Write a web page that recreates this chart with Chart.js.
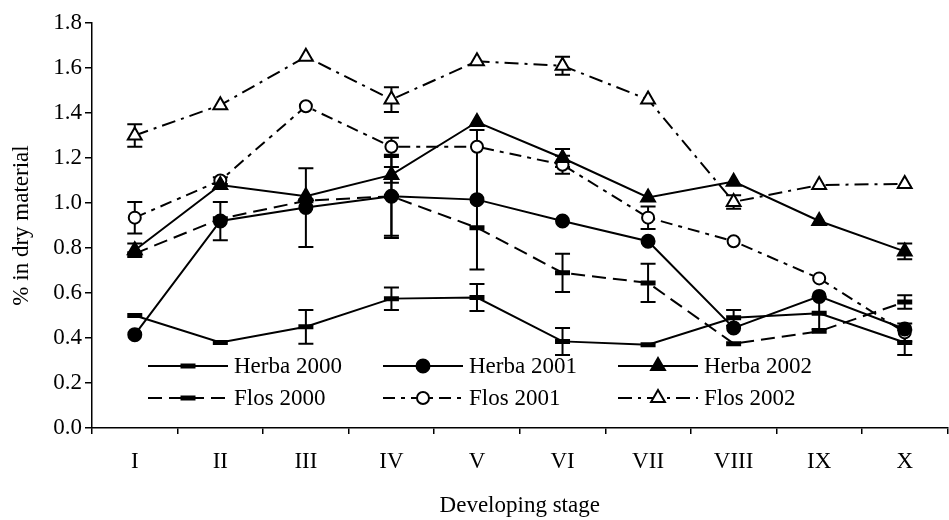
<!DOCTYPE html>
<html>
<head>
<meta charset="utf-8">
<script src="https://cdn.jsdelivr.net/npm/chart.js@4/dist/chart.umd.min.js"></script>
<style>
  html, body { margin: 0; padding: 0; background: #fff; overflow: hidden; }
  #wrap { width: 960px; height: 520px; }
</style>
</head>
<body>
<div id="wrap"><canvas id="grafico"></canvas></div>
<script>
// stages and measured values (% in dry material)
const stages = ['I', 'II', 'III', 'IV', 'V', 'VI', 'VII', 'VIII', 'IX', 'X'];

const herba2000 = [0.50, 0.38, 0.45, 0.575, 0.58, 0.385, 0.37, 0.49, 0.51, 0.38];
const herba2001 = [0.415, 0.92, 0.98, 1.03, 1.015, 0.92, 0.83, 0.445, 0.585, 0.44];
const herba2002 = [0.79, 1.08, 1.03, 1.125, 1.36, 1.20, 1.025, 1.095, 0.92, 0.785];
const flos2000 = [0.775, 0.93, 1.01, 1.03, 0.89, 0.69, 0.645, 0.375, 0.43, 0.56];
const flos2001 = [0.935, 1.10, 1.43, 1.25, 1.25, 1.17, 0.935, 0.83, 0.665, 0.425];
const flos2002 = [1.30, 1.435, 1.65, 1.46, 1.63, 1.61, 1.46, 1.005, 1.08, 1.085];

// error bar half-widths
const herba2000Err = [0, 0, 0.075, 0.05, 0.06, 0.06, 0, 0.035, 0.07, 0.055];
const herba2001Err = [0, 0.085, 0.175, 0.175, 0.31, 0, 0, 0, 0, 0];
const herba2002Err = [0.03, 0, 0, 0.035, 0, 0.04, 0, 0, 0, 0.035];
const flos2000Err = [0, 0, 0, 0.185, 0, 0.085, 0.085, 0, 0, 0.03];
const flos2001Err = [0.07, 0.015, 0, 0.04, 0, 0.04, 0.05, 0, 0, 0.04];
const flos2002Err = [0.05, 0, 0, 0.055, 0, 0.04, 0, 0.03, 0, 0];

const yTicks = [0, 0.2, 0.4, 0.6, 0.8, 1.0, 1.2, 1.4, 1.6, 1.8];

const fonte = { family: "'Liberation Serif', 'Times New Roman', serif", size: 23 };
const preto = '#000';

function serie(label, dados, erros, estilo, raio, cheio, tracejado) {
  return {
    label: label,
    data: dados,
    erros: erros,
    borderColor: preto,
    borderWidth: 2,
    borderDash: tracejado,
    pointStyle: estilo,
    pointRadius: raio,
    pointBorderWidth: estilo === 'line' ? 5 : 2,
    pointBackgroundColor: cheio ? preto : '#fff',
    pointBorderColor: preto,
    tension: 0,
    fill: false
  };
}

const datasets = [
  serie('Herba 2000', herba2000, herba2000Err, 'line', 7.5, true, []),
  serie('Herba 2001', herba2001, herba2001Err, 'circle', 6.5, true, []),
  serie('Herba 2002', herba2002, herba2002Err, 'triangle', 8, true, []),
  serie('Flos 2000', flos2000, flos2000Err, 'line', 7.5, true, [14, 7]),
  serie('Flos 2001', flos2001, flos2001Err, 'circle', 6, false, [12, 6, 4, 6]),
  serie('Flos 2002', flos2002, flos2002Err, 'triangle', 8, false, [14, 6, 3, 6])
];

// error bars drawn under the markers
const pluginErros = {
  id: 'pluginErros',
  beforeDatasetsDraw(chart) {
    const { ctx, scales: { x, y } } = chart;
    ctx.save();
    ctx.strokeStyle = preto;
    ctx.lineWidth = 2;
    ctx.setLineDash([]);
    chart.data.datasets.forEach(ds => {
      ds.data.forEach((v, i) => {
        const e = ds.erros[i];
        if (!e) return;
        const xp = x.getPixelForValue(i);
        const y1 = y.getPixelForValue(v + e);
        const y2 = y.getPixelForValue(v - e);
        ctx.beginPath();
        ctx.moveTo(xp, y1); ctx.lineTo(xp, y2);
        ctx.moveTo(xp - 7.5, y1); ctx.lineTo(xp + 7.5, y1);
        ctx.moveTo(xp - 7.5, y2); ctx.lineTo(xp + 7.5, y2);
        ctx.stroke();
      });
    });
    ctx.restore();
  }
};

// legend inside the plot, 3 columns x 2 rows
const pluginLegenda = {
  id: 'pluginLegenda',
  afterDraw(chart) {
    const { ctx } = chart;
    const colunas = [148, 383, 618];
    const linhas = [366, 398];
    const comp = 80;
    ctx.save();
    ctx.font = fonte.size + 'px ' + fonte.family;
    ctx.textBaseline = 'middle';
    ctx.textAlign = 'left';
    chart.data.datasets.forEach((ds, k) => {
      const x0 = colunas[k % 3];
      const yy = linhas[Math.floor(k / 3)];
      ctx.strokeStyle = preto;
      ctx.lineWidth = 2;
      ctx.setLineDash(ds.borderDash);
      ctx.beginPath();
      ctx.moveTo(x0, yy);
      ctx.lineTo(x0 + comp, yy);
      ctx.stroke();
      ctx.setLineDash([]);
      ctx.fillStyle = ds.pointBackgroundColor;
      ctx.strokeStyle = preto;
      ctx.lineWidth = ds.pointBorderWidth;
      Chart.helpers.drawPoint(ctx, { pointStyle: ds.pointStyle, radius: ds.pointRadius, rotation: 0, borderWidth: ds.pointBorderWidth }, x0 + comp / 2, yy);
      ctx.fillStyle = preto;
      ctx.fillText(ds.label, x0 + comp + 6, yy + 1);
    });
    ctx.restore();
  }
};

new Chart(document.getElementById('grafico'), {
  type: 'line',
  data: { labels: stages, datasets: datasets },
  options: {
    responsive: true,
    maintainAspectRatio: false,
    animation: false,
    layout: { padding: { top: 23, right: 2, left: 0, bottom: 0 } },
    plugins: {
      legend: { display: false },
      tooltip: { enabled: false }
    },
    scales: {
      x: {
        offset: true,
        border: { color: preto, width: 1.5 },
        grid: { drawOnChartArea: false, offset: true, tickLength: 6, color: preto, lineWidth: 1.5 },
        ticks: { font: fonte, color: preto, padding: 14, maxRotation: 0 },
        title: { display: true, text: 'Developing stage', font: fonte, color: preto, padding: { top: 0, bottom: 0 } },
        afterFit(s) { s.height = 92; }
      },
      y: {
        min: 0,
        max: 1.8,
        border: { color: preto, width: 1.5 },
        grid: { drawOnChartArea: false, tickLength: 7, color: preto, lineWidth: 1.5 },
        afterBuildTicks(s) { s.ticks = yTicks.map(v => ({ value: v })); },
        ticks: { font: fonte, color: preto, padding: 3, callback: v => v.toFixed(1) },
        title: { display: true, text: '% in dry material', font: fonte, color: preto, padding: { top: 8, bottom: 0 } },
        afterFit(s) { s.width = 92; }
      }
    }
  },
  plugins: [pluginErros, pluginLegenda]
});
</script>
</body>
</html>
